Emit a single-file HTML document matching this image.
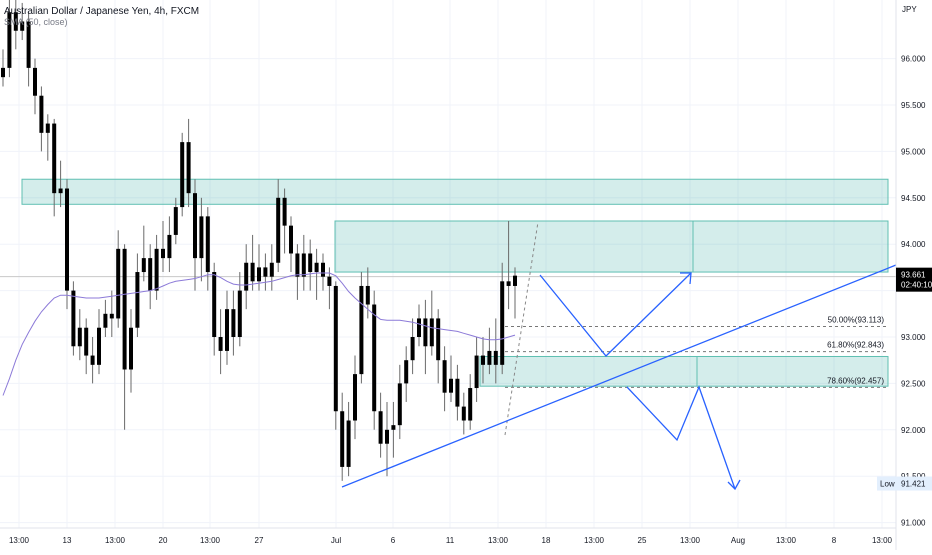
<!DOCTYPE html>
<html><head><meta charset="utf-8"><style>
html,body{margin:0;padding:0;background:#fff;}
body{width:932px;height:550px;overflow:hidden;font-family:"Liberation Sans",sans-serif;}
svg text{font-family:"Liberation Sans",sans-serif;}
</style></head><body>
<svg id="chart" width="932" height="550" viewBox="0 0 932 550" xmlns="http://www.w3.org/2000/svg">
<g id="grid"></g>
<g id="zones"></g>
<g id="candles"></g>
<g id="ma"></g>
<g id="draw"></g>
<g id="axes"></g>
<text x="4" y="14" font-size="10" fill="#131722">Australian Dollar / Japanese Yen, 4h, FXCM</text>
<text x="4" y="25" font-size="9" fill="#787b86">SMA (50, close)</text>
</svg>
<script>
const opens=[95.8,95.9,96.5,96.3,96.4,95.9,95.6,95.2,95.3,94.55,94.6,93.5,92.9,93.1,92.8,92.7,93.1,93.25,93.2,93.95,92.65,93.1,93.7,93.85,93.5,93.95,93.85,94.1,94.4,95.1,94.55,93.85,94.3,93.7,93.0,92.85,93.3,93.0,93.5,93.8,93.6,93.75,93.65,93.8,94.5,94.2,93.9,93.65,93.9,93.7,93.8,93.65,93.55,92.2,91.6,92.1,92.6,93.55,93.35,92.2,91.85,92.0,92.05,92.5,92.75,93.0,93.2,92.9,93.2,92.75,92.4,92.55,92.25,92.1,92.45,92.8,92.7,92.85,92.7,93.6,93.55];
const closes=[95.9,96.5,96.3,96.4,95.9,95.6,95.2,95.3,94.55,94.6,93.5,92.9,93.1,92.8,92.7,93.1,93.25,93.2,93.95,92.65,93.1,93.7,93.85,93.5,93.95,93.85,94.1,94.4,95.1,94.55,93.85,94.3,93.7,93.0,92.85,93.3,93.0,93.5,93.8,93.6,93.75,93.65,93.8,94.5,94.2,93.9,93.65,93.9,93.7,93.8,93.65,93.55,92.2,91.6,92.1,92.6,93.55,93.35,92.2,91.85,92.0,92.05,92.5,92.75,93.0,93.2,92.9,93.2,92.75,92.4,92.55,92.25,92.1,92.45,92.8,92.7,92.85,92.7,93.6,93.55,93.661];
const highs=[96.1,96.7,96.7,96.6,96.5,96.0,95.7,95.4,95.35,94.9,94.7,93.6,93.3,93.2,93.0,93.3,93.4,93.5,94.15,94.0,93.3,93.9,94.2,94.0,94.1,94.25,94.3,94.5,95.2,95.35,94.7,94.5,94.4,93.8,93.3,93.5,93.5,93.7,94.0,94.1,94.0,93.9,94.0,94.7,94.6,94.3,94.0,94.1,94.05,93.95,93.9,93.75,93.6,92.4,92.3,92.8,93.7,93.75,93.5,92.4,92.3,92.3,92.7,92.9,93.2,93.35,93.4,93.5,93.3,92.9,92.8,92.7,92.4,92.6,93.0,93.0,93.1,93.2,93.8,94.25,93.75];
const lows=[95.7,95.8,96.1,96.2,95.7,95.4,95.0,94.9,94.3,94.4,93.3,92.8,92.75,92.6,92.5,92.6,93.0,93.0,93.1,92.0,92.4,93.0,93.6,93.3,93.4,93.7,93.7,94.0,94.3,94.4,93.5,93.6,93.5,92.8,92.6,92.7,92.8,92.9,93.3,93.5,93.5,93.5,93.5,93.7,93.9,93.7,93.4,93.5,93.5,93.4,93.5,93.3,92.0,91.45,91.5,91.9,92.5,93.2,92.0,91.7,91.5,91.7,91.9,92.3,92.6,92.9,92.6,92.8,92.5,92.2,92.3,92.1,91.95,92.0,92.3,92.5,92.6,92.5,92.6,93.3,93.2];
const smaValues=[92.37,92.55,92.75,92.92,93.05,93.17,93.27,93.35,93.42,93.45,93.45,93.44,93.43,93.42,93.42,93.42,93.43,93.44,93.45,93.46,93.47,93.48,93.49,93.5,93.52,93.55,93.58,93.6,93.61,93.62,93.63,93.65,93.67,93.67,93.64,93.6,93.57,93.56,93.56,93.57,93.58,93.59,93.6,93.62,93.64,93.66,93.67,93.67,93.68,93.69,93.69,93.69,93.66,93.58,93.49,93.42,93.36,93.3,93.24,93.19,93.18,93.18,93.18,93.17,93.16,93.14,93.12,93.1,93.09,93.08,93.07,93.06,93.04,93.02,93.0,92.98,92.97,92.97,92.98,93.0,93.02];
const priceTicks=[96.0,95.5,95.0,94.5,94.0,93.0,92.5,92.0,91.5,91.0];
const timeLabels=["13:00","13","13:00","20","13:00","27","Jul","6","11","13:00","18","13:00","25","13:00","Aug","13:00","8","13:00"];
const timeLabelX=[19,67,115,163,210,259,336,393,450,498,546,594,642,690,738,786,834,882];
const fibLevels=[93.113,92.843,92.457];
const fibNames=["50.00%","61.80%","78.60%"];
const lastPrice=93.661, lowPrice=91.421;

const NS="http://www.w3.org/2000/svg";
const yS=p=>337-(p-93)*92.8;
const xS=i=>3+i*6.4;
const PLOT_W=896;
function mk(parent,tag,attrs,txt){const e=document.createElementNS(NS,tag);for(const k in attrs)e.setAttribute(k,attrs[k]);if(txt!==undefined)e.textContent=txt;document.getElementById(parent).appendChild(e);return e;}

// grid
for(const p of priceTicks.concat([93.5])){const l=mk('grid','line',{x1:0,x2:PLOT_W,y1:yS(p),y2:yS(p),stroke:'#f0f3fa','stroke-width':1});

}
for(const x of timeLabelX){const l=mk('grid','line',{x1:x,x2:x,y1:0,y2:528,stroke:'#f0f3fa','stroke-width':1});

}

// zones
function zone(x1,p1,p2,vx,name){const r=mk('zones','rect',{x:x1,y:yS(p1),width:888-x1,height:yS(p2)-yS(p1),fill:'rgba(38,166,154,0.2)',stroke:'#5fbfb2','stroke-width':1});


if(vx){mk('zones','line',{x1:vx,x2:vx,y1:yS(p1),y2:yS(p2),stroke:'#5fbfb2','stroke-width':1});}}
zone(22,94.70,94.43,null,'resistance-zone-upper');
zone(335,94.25,93.70,693,'resistance-zone');
zone(480,92.79,92.47,697,'demand-zone');

// current price line
mk('zones','line',{x1:0,x2:PLOT_W,y1:yS(lastPrice)+1,y2:yS(lastPrice)+1,stroke:'#c8c8c8','stroke-width':1});

// candles
for(let i=0;i<closes.length;i++){const x=xS(i);
const w=mk('candles','line',{x1:x,x2:x,y1:yS(highs[i]),y2:yS(lows[i]),stroke:'#6a6a6a','stroke-width':1});


const t=Math.min(yS(opens[i]),yS(closes[i])),h=Math.max(1.5,Math.abs(yS(opens[i])-yS(closes[i])));
const b=mk('candles','rect',{x:x-2,y:t,width:4,height:h,fill:'#000'});

}

// sma
let d='';smaValues.forEach((v,i)=>{d+=(i?'L':'M')+xS(i).toFixed(1)+' '+yS(v).toFixed(1);});
const sp=mk('ma','path',{d:d,fill:'none',stroke:'#8c7ad8','stroke-width':1});



// fib
fibLevels.forEach((f,i)=>{const y=yS(f);
const l=mk('draw','line',{x1:505,x2:888,y1:y,y2:y,stroke:'#777','stroke-width':1,'stroke-dasharray':'3,3'});


const t=mk('draw','text',{x:884,y:y-4,'font-size':8,fill:'#131722','text-anchor':'end'},fibNames[i]+'('+f.toFixed(3)+')');

});
mk('draw','line',{x1:505,y1:435,x2:538,y2:222,stroke:'#888','stroke-width':1,'stroke-dasharray':'3,3'});

// blue drawings
const tl=mk('draw','line',{x1:342,y1:487,x2:896,y2:265,stroke:'#2962ff','stroke-width':1.3});


const z1=mk('draw','polyline',{points:'540,275 606,356 691,273',fill:'none',stroke:'#2962ff','stroke-width':1.3});


mk('draw','polyline',{points:'680,273 691,273 690,284',fill:'none',stroke:'#2962ff','stroke-width':1.3});
const z2=mk('draw','polyline',{points:'627,387 677,440 699,387 735,489',fill:'none',stroke:'#2962ff','stroke-width':1.3});


mk('draw','polyline',{points:'728,482 735,489 740,480',fill:'none',stroke:'#2962ff','stroke-width':1.3});

// axes
mk('axes','line',{x1:PLOT_W,x2:PLOT_W,y1:0,y2:550,stroke:'#e0e3eb','stroke-width':1});
mk('axes','line',{x1:0,x2:PLOT_W,y1:528,y2:528,stroke:'#e0e3eb','stroke-width':1});
mk('axes','text',{x:902,y:12,'font-size':8,fill:'#131722'},'JPY');
priceTicks.forEach(p=>{const t=mk('axes','text',{x:901,y:yS(p)+3,'font-size':8,fill:'#131722'},p.toFixed(3));

});
timeLabels.forEach((s,i)=>{const t=mk('axes','text',{x:timeLabelX[i],y:543,'font-size':8,fill:'#131722','text-anchor':'middle'},s);

});
const pb=mk('axes','rect',{x:896,y:yS(lastPrice)-8,width:36,height:24,fill:'#000'});


mk('axes','text',{x:901,y:yS(lastPrice)+2,'font-size':8,fill:'#fff'},lastPrice.toFixed(3));
mk('axes','text',{x:901,y:yS(lastPrice)+12,'font-size':8,fill:'#fff'},'02:40:10');
mk('axes','rect',{x:877,y:yS(lowPrice)-7,width:19,height:14,fill:'#e3effd'});
mk('axes','text',{x:880,y:yS(lowPrice)+3,'font-size':8,fill:'#131722'},'Low');
const lb=mk('axes','rect',{x:896,y:yS(lowPrice)-7,width:36,height:14,fill:'#e3effd'});


mk('axes','text',{x:901,y:yS(lowPrice)+3,'font-size':8,fill:'#131722'},lowPrice.toFixed(3));
</script>
</body></html>
